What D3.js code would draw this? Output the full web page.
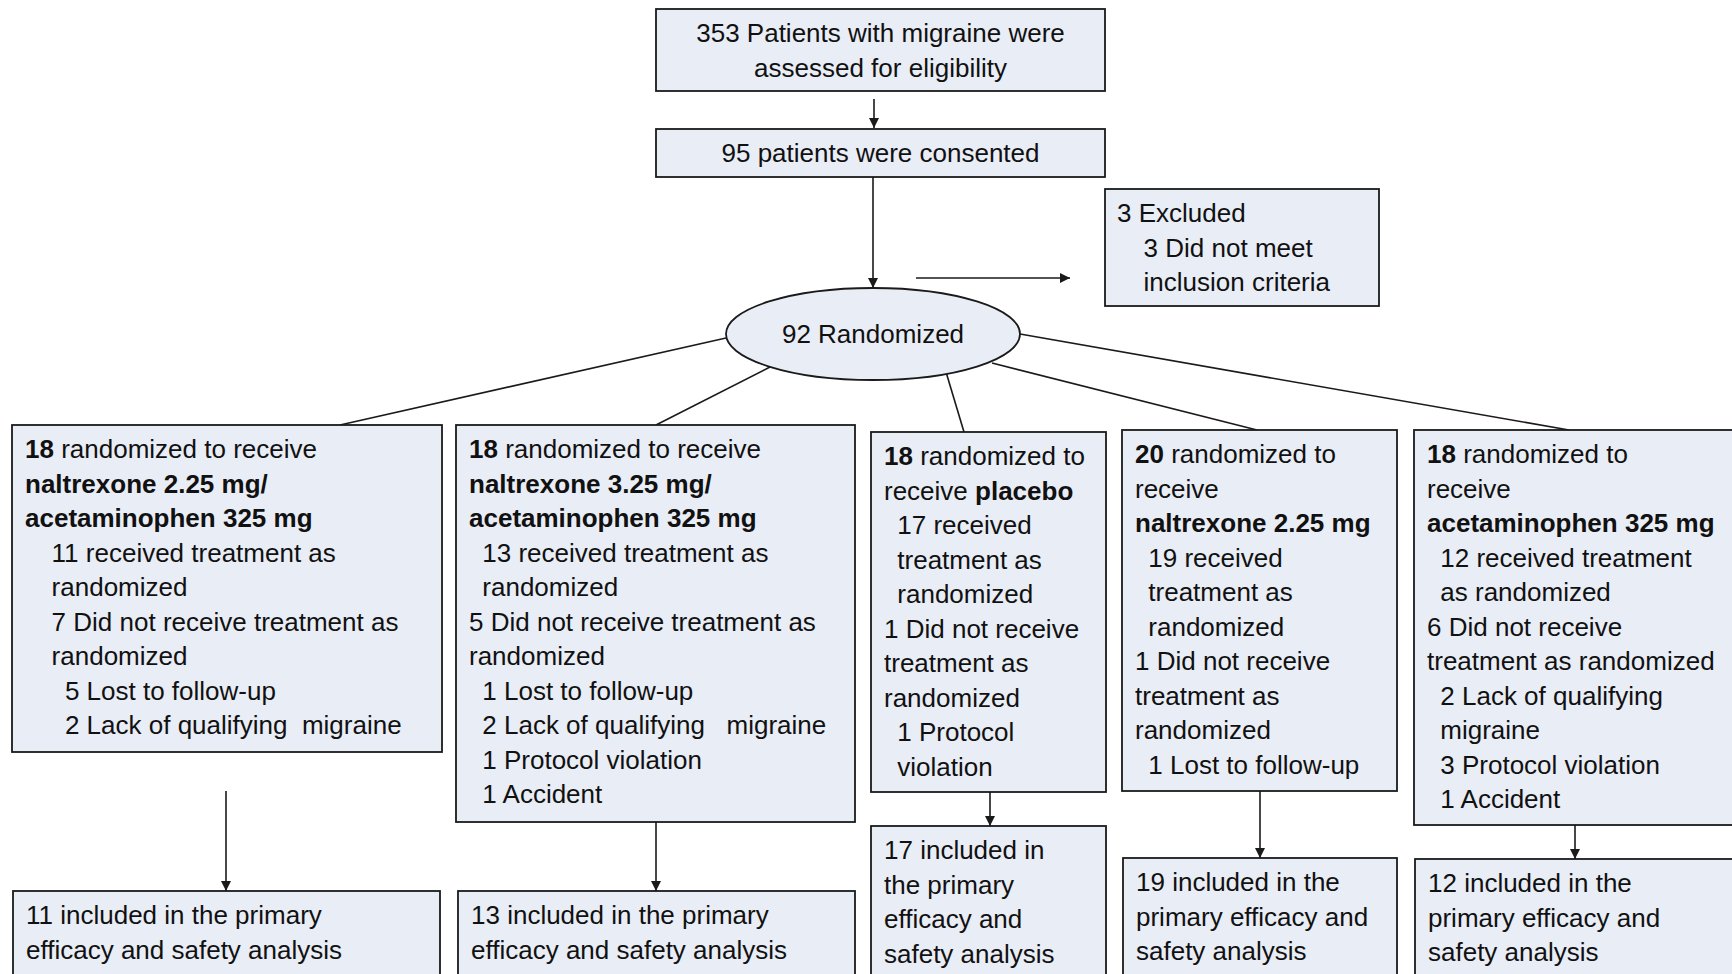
<!DOCTYPE html>
<html>
<head>
<meta charset="utf-8">
<script src="https://cdn.jsdelivr.net/npm/d3@7"></script>
<style>
body { margin: 0; background: #fff; }
text { font-family: "Liberation Sans", Arial, sans-serif; font-size: 26px; fill: #111; white-space: pre; }
</style>
</head>
<body>
<div id="chart"></div>
<script>
// box texts: each line is [indent level, text] ; "**" marks bold runs
var assessedLines = ["353 Patients with migraine were", "assessed for eligibility"];
var consentedLines = ["95 patients were consented"];
var excludedLines = [[0, "3 Excluded"], [2, "3 Did not meet"], [2, "inclusion criteria"]];
var randomizedLabel = "92 Randomized";

var armLines = [
	[[0, "**18** randomized to receive"], [0, "**naltrexone 2.25 mg/**"], [0, "**acetaminophen 325 mg**"],
	 [2, "11 received treatment as"], [2, "randomized"], [2, "7 Did not receive treatment as"], [2, "randomized"],
	 [3, "5 Lost to follow-up"], [3, "2 Lack of qualifying  migraine"]],
	[[0, "**18** randomized to receive"], [0, "**naltrexone 3.25 mg/**"], [0, "**acetaminophen 325 mg**"],
	 [1, "13 received treatment as"], [1, "randomized"], [0, "5 Did not receive treatment as"], [0, "randomized"],
	 [1, "1 Lost to follow-up"], [1, "2 Lack of qualifying   migraine"], [1, "1 Protocol violation"], [1, "1 Accident"]],
	[[0, "**18** randomized to"], [0, "receive **placebo**"],
	 [1, "17 received"], [1, "treatment as"], [1, "randomized"], [0, "1 Did not receive"], [0, "treatment as"], [0, "randomized"],
	 [1, "1 Protocol"], [1, "violation"]],
	[[0, "**20** randomized to"], [0, "receive"], [0, "**naltrexone 2.25 mg**"],
	 [1, "19 received"], [1, "treatment as"], [1, "randomized"], [0, "1 Did not receive"], [0, "treatment as"], [0, "randomized"],
	 [1, "1 Lost to follow-up"]],
	[[0, "**18** randomized to"], [0, "receive"], [0, "**acetaminophen 325 mg**"],
	 [1, "12 received treatment"], [1, "as randomized"], [0, "6 Did not receive"], [0, "treatment as randomized"],
	 [1, "2 Lack of qualifying"], [1, "migraine"], [1, "3 Protocol violation"], [1, "1 Accident"]]
];

var analysisLines = [
	["11 included in the primary", "efficacy and safety analysis"],
	["13 included in the primary", "efficacy and safety analysis"],
	["17 included in", "the primary", "efficacy and", "safety analysis"],
	["19 included in the", "primary efficacy and", "safety analysis"],
	["12 included in the", "primary efficacy and", "safety analysis"]
];

// layout (pixels)
var W = 1732, H = 974;
var lineH = 34.5, firstLine = 24, padX = 13, indentUnit = 13.3;
var fill = "#e9edf6", stroke = "#1a1a1a";

var armBoxes = [
	{x: 12, y: 425, w: 430, h: 327},
	{x: 456, y: 425, w: 399, h: 397},
	{x: 871, y: 432, w: 235, h: 360},
	{x: 1122, y: 430, w: 275, h: 361},
	{x: 1414, y: 430, w: 330, h: 395}
];
var armJoin = [[726, 338, 340, 425], [770, 367, 656, 425], [946, 372, 964, 432], [992, 363, 1257, 430], [1020, 334, 1569, 430]];
var analysisBoxes = [
	{x: 13, y: 891, w: 427, h: 120},
	{x: 458, y: 891, w: 397, h: 120},
	{x: 871, y: 826, w: 235, h: 180},
	{x: 1123, y: 858, w: 274, h: 150},
	{x: 1415, y: 859, w: 330, h: 150}
];
var analysisArrows = [[226, 791], [656, 822], [990, 792], [1260, 791], [1575, 825]];

var svg = d3.select("#chart").append("svg")
	.attr("width", W).attr("height", H);

svg.append("defs").append("marker")
	.attr("id", "arrow")
	.attr("viewBox", "0 0 10 10")
	.attr("refX", 10).attr("refY", 5)
	.attr("markerWidth", 10).attr("markerHeight", 10)
	.attr("markerUnits", "userSpaceOnUse")
	.attr("orient", "auto")
	.append("path").attr("d", "M0,0 L10,5 L0,10 Z").attr("fill", stroke);

function box(b) {
	svg.append("rect")
		.attr("x", b.x).attr("y", b.y).attr("width", b.w).attr("height", b.h)
		.attr("fill", fill).attr("stroke", stroke).attr("stroke-width", 1.8);
}

function line(x1, y1, x2, y2, arrow) {
	var l = svg.append("line")
		.attr("x1", x1).attr("y1", y1).attr("x2", x2).attr("y2", y2)
		.attr("stroke", stroke).attr("stroke-width", 1.6);
	if (arrow) l.attr("marker-end", "url(#arrow)");
}

function richLine(x, y, s, anchor) {
	var t = svg.append("text")
		.attr("x", x).attr("y", y)
		.attr("dominant-baseline", "central")
		.attr("text-anchor", anchor || "start");
	s.split("**").forEach(function(part, i) {
		if (part === "") return;
		t.append("tspan").attr("font-weight", i % 2 ? "bold" : "normal").text(part);
	});
}

// top section
var top1 = {x: 656, y: 9, w: 449, h: 82};
var top2 = {x: 656, y: 129, w: 449, h: 48};
var excl = {x: 1105, y: 189, w: 274, h: 117};
box(top1);
assessedLines.forEach(function(s, i) { richLine(top1.x + top1.w / 2, top1.y + firstLine + i * lineH, s, "middle"); });
line(874, 99, 874, 128, true);
box(top2);
consentedLines.forEach(function(s, i) { richLine(top2.x + top2.w / 2, top2.y + firstLine, s, "middle"); });
line(873, 177, 873, 288, true);
line(916, 278, 1070, 278, true);
box(excl);
excludedLines.forEach(function(d, i) { richLine(excl.x + 12 + d[0] * indentUnit, excl.y + firstLine + i * lineH, d[1]); });

// lines to arms (drawn before ellipse)
armJoin.forEach(function(j) { line(j[0], j[1], j[2], j[3], false); });

svg.append("ellipse")
	.attr("cx", 873).attr("cy", 334).attr("rx", 147).attr("ry", 46)
	.attr("fill", fill).attr("stroke", stroke).attr("stroke-width", 1.8);
richLine(873, 334, randomizedLabel, "middle");

armBoxes.forEach(function(b, k) {
	box(b);
	armLines[k].forEach(function(d, i) {
		richLine(b.x + padX + d[0] * indentUnit, b.y + firstLine + i * lineH, d[1]);
	});
	var a = analysisArrows[k], ab = analysisBoxes[k];
	line(a[0], a[1], a[0], ab.y, true);
	box(ab);
	analysisLines[k].forEach(function(s, i) {
		richLine(ab.x + padX, ab.y + firstLine + i * lineH, s);
	});
});
</script>
</body>
</html>
